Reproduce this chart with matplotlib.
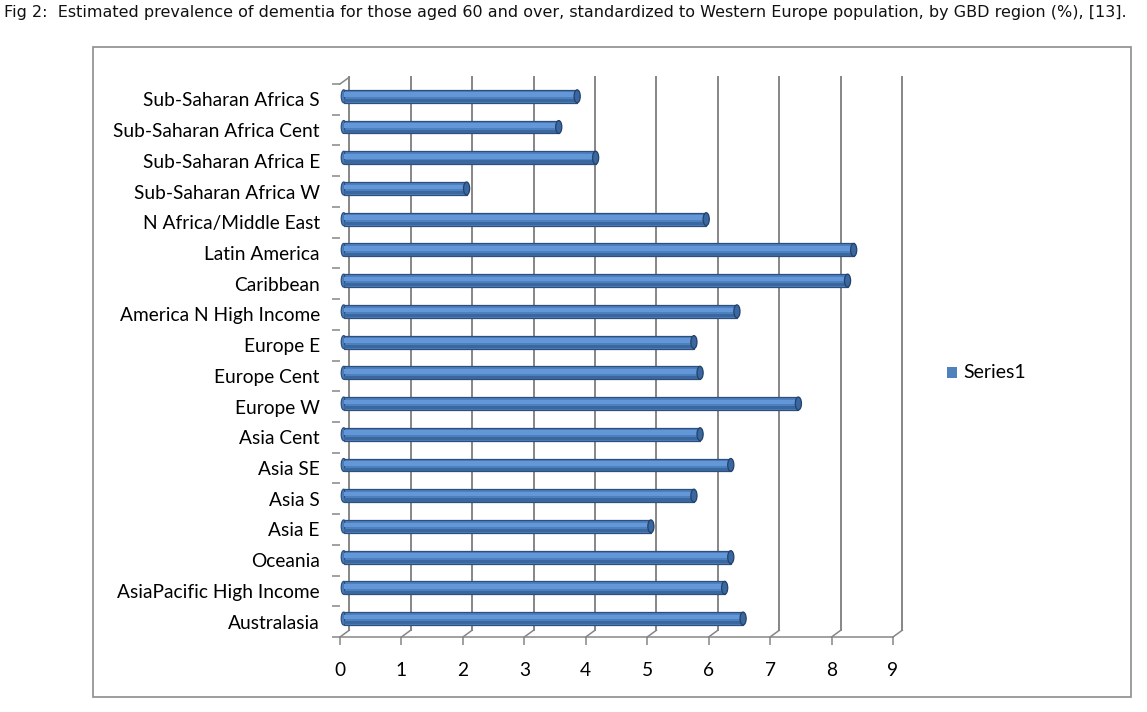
import matplotlib
matplotlib.use("Agg")
import matplotlib.pyplot as plt
from matplotlib.patches import Ellipse, Rectangle

# regions listed bottom -> top, as plotted
regions = ["Australasia", "AsiaPacific High Income", "Oceania", "Asia E", "Asia S",
           "Asia SE", "Asia Cent", "Europe W", "Europe Cent", "Europe E",
           "America N High Income", "Caribbean", "Latin America",
           "N Africa/Middle East", "Sub-Saharan Africa W", "Sub-Saharan Africa E",
           "Sub-Saharan Africa Cent", "Sub-Saharan Africa S"]
prevalence = [6.5, 6.2, 6.3, 5.0, 5.7, 6.3, 5.8, 7.4, 5.8, 5.7,
              6.4, 8.2, 8.3, 5.9, 2.0, 4.1, 3.5, 3.8]
x_ticks = list(range(0, 10))
series_name = "Series1"
title = ("Fig 2:  Estimated prevalence of dementia for those aged 60 and over, "
         "standardized to Western Europe population, by GBD region (%), [13].")

W, H = 1147, 712
fig = plt.figure(figsize=(W / 100, H / 100), dpi=100)

# outer chart border
fig.add_artist(Rectangle((93 / W, 1 - 697 / H), (1131 - 93) / W, (697 - 47) / H,
                         transform=fig.transFigure, fill=False,
                         edgecolor="#8c8c8c", linewidth=1.2))

fig.text(4 / W, 1 - 13 / H, title, fontsize=11.5, family="DejaVu Sans",
         va="center", ha="left", color="#111111")

ax = fig.add_axes([340 / W, 1 - 637 / H, (893 - 340) / W, (637 - 84) / H])
ax.set_xlim(0, 9)
ax.set_ylim(-0.5, len(regions) - 0.5)
for s in ax.spines.values():
    s.set_visible(False)

grid_c = "#868686"
dx, dy = 0.15, 0.22
top = len(regions) - 0.5
# back wall grid + floor diagonals
for v in x_ticks:
    ax.plot([v + dx, v + dx], [-0.5 + dy, top + dy], color=grid_c, lw=1.4,
            clip_on=False, zorder=1)
    ax.plot([v, v + dx], [-0.5, -0.5 + dy], color=grid_c, lw=1.1,
            clip_on=False, zorder=1)
ax.plot([0, 9], [-0.5, -0.5], color=grid_c, lw=1.1, clip_on=False, zorder=1)
ax.plot([0, dx], [top, top + dy], color=grid_c, lw=1.1, clip_on=False, zorder=1)

# bars with a cylinder-ish look
ypos = [i + 0.1 for i in range(len(regions))]
bh = 0.42
x0 = 0.06
ax.barh(ypos, prevalence, left=x0, height=bh, color="#4d80bf",
        edgecolor="#2c4f7c", linewidth=0.9, zorder=3)
ax.barh([y + 0.05 for y in ypos], prevalence, left=x0, height=0.15,
        color="#6497d8", linewidth=0, zorder=4)
ax.barh([y - 0.14 for y in ypos], prevalence, left=x0, height=0.1,
        color="#3b679f", linewidth=0, zorder=4)
for y, v in zip(ypos, prevalence):
    ax.add_patch(Ellipse((v + x0, y), 0.1, bh, facecolor="#3a679f",
                         edgecolor="#22426b", lw=0.9, zorder=5))
    ax.add_patch(Ellipse((x0, y), 0.08, bh, facecolor="#4d80bf",
                         edgecolor="#2c4f7c", lw=0.9, zorder=2))

ax.set_yticks(range(len(regions)))
ax.set_yticklabels(regions, family="Lato", fontsize=13.8)
ax.set_yticks([i - 0.5 for i in range(len(regions) + 1)], minor=True)
ax.tick_params(axis="y", which="major", length=0, pad=14.5)
ax.tick_params(axis="y", which="minor", length=6, color=grid_c, width=1.1)
ax.set_xticks(x_ticks)
ax.set_xticklabels([str(v) for v in x_ticks], family="Lato", fontsize=13.8)
ax.tick_params(axis="x", length=6, color=grid_c, width=1.1, pad=12)

# legend
fig.add_artist(Rectangle((947 / W, 1 - 378 / H), 10 / W, 11 / H,
                         transform=fig.transFigure, facecolor="#4f81bd",
                         edgecolor="none"))
fig.text(963 / W, 1 - 372 / H, series_name, family="Lato", fontsize=14,
         va="center", ha="left")

fig.savefig("out.png", dpi=100)
